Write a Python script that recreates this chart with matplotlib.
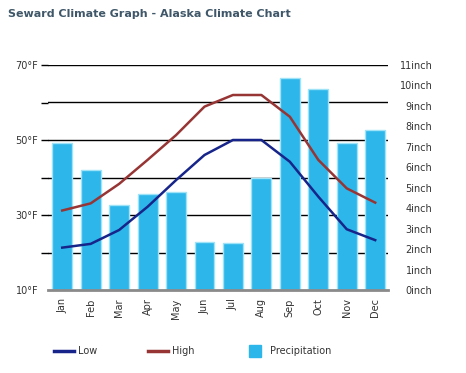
import matplotlib
matplotlib.use("Agg")
import matplotlib.pyplot as plt
from matplotlib.lines import Line2D

# Data
months = ['Jan', 'Feb', 'Mar', 'Apr', 'May', 'Jun', 'Jul', 'Aug', 'Sep', 'Oct', 'Nov', 'Dec']
low = [21.3, 22.3, 26.0, 32.2, 39.3, 46.0, 50.0, 50.0, 44.2, 34.9, 26.2, 23.3]
high = [31.2, 33.1, 38.3, 44.7, 51.3, 58.9, 62.0, 62.0, 56.2, 44.7, 37.1, 33.3]
precip = [7.2, 5.85, 4.14, 4.71, 4.78, 2.33, 2.28, 5.46, 10.35, 9.81, 7.17, 7.81]

temp_ticks = [10, 20, 30, 40, 50, 60, 70]
temp_labels = ['10°F', '', '30°F', '', '50°F', '', '70°F']
inch_ticks = list(range(0, 12))
inch_labels = ['%dinch' % v for v in inch_ticks]

low_color = '#17258a'
high_color = '#973535'
bar_color = '#2cb6ea'
text_color = '#333333'

W, H = 466, 373
fig = plt.figure(figsize=(W / 100, H / 100), dpi=100)
fig.patch.set_facecolor('white')

ax = fig.add_axes([48 / W, 1 - 290 / H, (388 - 48) / W, (290 - 65) / H])
ax2 = ax.twinx()

x = list(range(len(months)))

# precipitation bars on the right-hand scale, drawn below the temperature lines
ax2.set_zorder(1)
ax.set_zorder(2)
ax.patch.set_visible(False)

# gridlines belong to the temperature axis but sit behind the bars
ax2.bar(x, precip, width=0.7, color=bar_color, edgecolor='#9fe3f8', linewidth=1.0, zorder=3)
for t in temp_ticks[1:]:
    ax2.axhline((t - 10) / 60 * 11, color='black', linewidth=1.0, zorder=1)

ax.plot(x, low, color=low_color, linewidth=1.8, zorder=4)
ax.plot(x, high, color=high_color, linewidth=1.8, zorder=4)

ax.set_xlim(-0.5, 11.45)
ax.set_ylim(10, 70)
ax2.set_ylim(0, 11)

ax.set_yticks(temp_ticks)
ax.set_yticklabels(temp_labels, fontsize=7, color=text_color)
ax.tick_params(axis='y', length=5, width=1.0, color='black', pad=2)
ax.yaxis.get_major_ticks()[0].tick1line.set_visible(False)

ax2.set_yticks(inch_ticks)
ax2.set_yticklabels(inch_labels, fontsize=7, color=text_color, ha='right')
ax2.tick_params(axis='y', length=0, pad=32)

ax.set_xticks(x)
ax.set_xticklabels(months, rotation=90, fontsize=7, color=text_color)
ax.tick_params(axis='x', length=0, pad=6)
ax2.tick_params(axis='x', length=0)

for a in (ax, ax2):
    for s in ('top', 'left', 'right'):
        a.spines[s].set_visible(False)
    a.spines['bottom'].set_visible(False)
ax.spines['bottom'].set_visible(True)
ax.spines['bottom'].set_color('#8a8a8a')
ax.spines['bottom'].set_linewidth(2)

fig.text(8 / W, 1 - 14 / H, 'Seward Climate Graph - Alaska Climate Chart',
         fontsize=8, fontweight='bold', color='#3f5768', va='center', ha='left')

handles = [
    Line2D([], [], color=low_color, linewidth=2.5),
    Line2D([], [], color=high_color, linewidth=2.5),
    Line2D([], [], color=bar_color, marker='s', linestyle='none', markersize=9),
]
fig.legend(handles, ['Low', 'High', 'Precipitation'], loc='center left',
           bbox_to_anchor=(45 / W, 1 - 351 / H), ncol=3, frameon=False,
           fontsize=7, handlelength=2.1, handletextpad=0.4, columnspacing=5.2,
           labelcolor=text_color)

fig.savefig('out.png', dpi=100)
